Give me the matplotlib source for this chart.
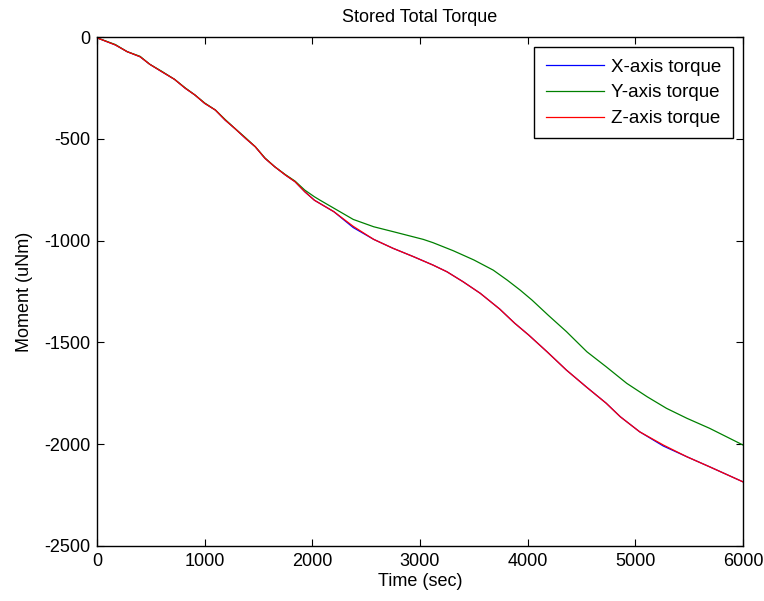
import numpy as np
import matplotlib
matplotlib.use('Agg')
import matplotlib.pyplot as plt

plt.rcParams['font.family'] = ['Liberation Sans', 'DejaVu Sans']
plt.rcParams['axes.unicode_minus'] = False

# data
t_xz = [0, 10, 170, 280, 400, 490, 600, 720, 820, 910, 1000, 1100, 1190, 1280,
        1380, 1470, 1560, 1650, 1750, 1840, 1930, 2020, 2200, 2380, 2570, 2750,
        2940, 3120, 3250, 3400, 3560, 3740, 3880, 4010, 4180, 4360, 4550, 4730,
        4860, 5040, 5260, 5480, 5690, 6000]
torque_z = [0, -6, -39, -72, -97, -134, -170, -208, -252, -285, -326, -359, -408,
            -449, -498, -539, -596, -637, -678, -711, -760, -802, -858, -930,
            -994, -1038, -1079, -1120, -1153, -1202, -1259, -1336, -1406, -1464,
            -1546, -1636, -1721, -1799, -1865, -1939, -2004, -2062, -2111, -2185]
torque_x = [0, -6, -39, -72, -97, -134, -170, -208, -252, -285, -326, -359, -408,
            -449, -498, -539, -596, -637, -678, -711, -760, -802, -858, -936,
            -994, -1038, -1079, -1120, -1153, -1202, -1259, -1336, -1406, -1464,
            -1546, -1636, -1721, -1799, -1865, -1939, -2009, -2062, -2111, -2185]

t_y = [0, 10, 170, 280, 400, 490, 600, 720, 820, 910, 1000, 1100, 1190, 1280,
       1380, 1470, 1560, 1650, 1750, 1840, 1930, 2020, 2070, 2230, 2380, 2570,
       2750, 3030, 3120, 3310, 3500, 3680, 3810, 3930, 4040, 4190, 4360,
       4550, 4730, 4920, 5110, 5290, 5480, 5690, 6000]
torque_y = [0, -6, -37, -72, -95, -134, -168, -208, -250, -285, -324, -359, -405,
            -449, -495, -539, -594, -637, -676, -708, -752, -785, -801, -850,
            -896, -932, -956, -994, -1010, -1050, -1095, -1145, -1194,
            -1243, -1292, -1366, -1447, -1546, -1620, -1701, -1767, -1824,
            -1873, -1922, -2004]

fig = plt.figure(figsize=(7.64, 6.01), dpi=100)
ax = fig.add_axes([97/764, 1 - 546/601, 646/764, 509/601])

ax.plot(t_xz, torque_x, color=(0, 0, 1), lw=0.9, label='X-axis torque')
ax.plot(t_y, torque_y, color=(0, 0.5, 0), lw=0.9, label='Y-axis torque')
ax.plot(t_xz, torque_z, color=(1, 0, 0), lw=0.9, label='Z-axis torque')

ax.set_xlim(0, 6000)
ax.set_ylim(-2500, 0)
ax.set_xticks(np.arange(0, 6001, 1000))
ax.set_yticks(np.arange(-2500, 1, 500))
ax.tick_params(direction='in', length=5, width=0.8, labelsize=13,
               top=True, right=True, pad=5)
for s in ax.spines.values():
    s.set_linewidth(1.0)

ax.set_xlabel('Time (sec)', fontsize=13, labelpad=2)
ax.set_ylabel('Moment (uNm)', fontsize=13, labelpad=8)
ax.set_title('Stored Total Torque', fontsize=13, pad=11)

leg = ax.legend(loc='upper right', bbox_to_anchor=(0.9845, 0.9798),
                borderaxespad=0, fontsize=13.5, fancybox=False, framealpha=1,
                edgecolor='black', handlelength=3.1, labelspacing=0.46,
                handletextpad=0.41, borderpad=0.6)
leg.get_frame().set_linewidth(1.0)

fig.savefig('out.png', dpi=100)
